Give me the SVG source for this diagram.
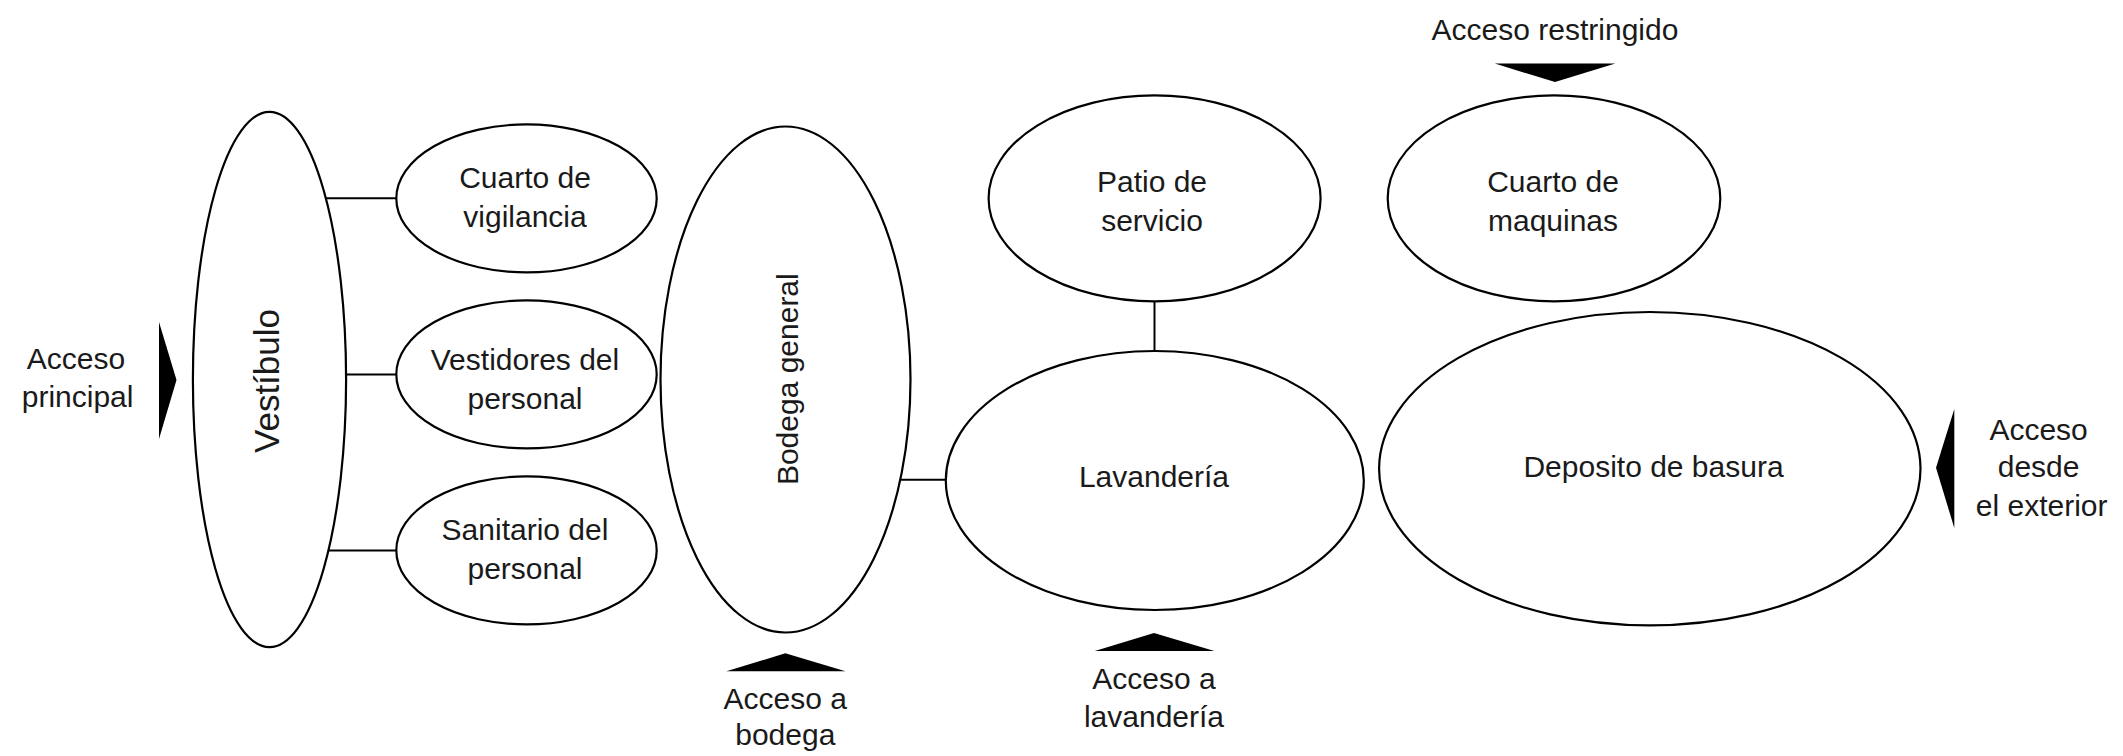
<svg xmlns="http://www.w3.org/2000/svg" width="2123" height="756" viewBox="0 0 2123 756">
<style>
  .node { fill: #ffffff; stroke: #000000; stroke-width: 2.2; }
  .conn { stroke: #000000; stroke-width: 2; fill: none; }
  .arrow { fill: #000000; stroke: none; }
  text { font-family: "Liberation Sans", Arial, sans-serif; font-size: 30px; fill: #1a1a1a; text-anchor: middle; }
</style>
<rect x="0" y="0" width="2123" height="756" fill="#ffffff"/>
<g id="connectors">
  <line class="conn" x1="326" y1="198.3" x2="396.5" y2="198.3"/>
  <line class="conn" x1="345" y1="374.5" x2="396.5" y2="374.5"/>
  <line class="conn" x1="328" y1="550.5" x2="396.5" y2="550.5"/>
  <line class="conn" x1="900" y1="479.7" x2="946" y2="479.7"/>
  <line class="conn" x1="1154.5" y1="301.4" x2="1154.5" y2="351"/>
</g>
<g id="vestibulo">
  <ellipse class="node" cx="269.5" cy="379.5" rx="76.6" ry="267.6"/>
  <text transform="translate(279,381) rotate(-90)" style="font-size:35px">Vestíbulo</text>
</g>
<g id="cuarto-vigilancia">
  <ellipse class="node" cx="526.5" cy="198.4" rx="130.2" ry="74"/>
  <text x="525" y="188">Cuarto de</text>
  <text x="525" y="226.6">vigilancia</text>
</g>
<g id="vestidores">
  <ellipse class="node" cx="526.5" cy="374.4" rx="130.2" ry="74"/>
  <text x="525" y="370.3">Vestidores del</text>
  <text x="525" y="408.9">personal</text>
</g>
<g id="sanitario">
  <ellipse class="node" cx="526.5" cy="550.4" rx="130.2" ry="74"/>
  <text x="525" y="540">Sanitario del</text>
  <text x="525" y="578.6">personal</text>
</g>
<g id="bodega">
  <ellipse class="node" cx="785.5" cy="379.5" rx="125" ry="253"/>
  <text transform="translate(797.5,379.2) rotate(-90)">Bodega general</text>
</g>
<g id="patio">
  <ellipse class="node" cx="1154.6" cy="198.4" rx="166" ry="103"/>
  <text x="1152" y="191.9">Patio de</text>
  <text x="1152" y="230.5">servicio</text>
</g>
<g id="lavanderia">
  <ellipse class="node" cx="1154.8" cy="480.5" rx="209" ry="129.5"/>
  <text x="1154" y="487">Lavandería</text>
</g>
<g id="cuarto-maquinas">
  <ellipse class="node" cx="1554" cy="198.4" rx="166.3" ry="103"/>
  <text x="1553" y="191.9">Cuarto de</text>
  <text x="1553" y="230.5">maquinas</text>
</g>
<g id="deposito">
  <ellipse class="node" cx="1649.8" cy="468.7" rx="270.7" ry="156.7"/>
  <text x="1653.5" y="477.3">Deposito de basura</text>
</g>
<g id="acceso-principal">
  <polygon class="arrow" points="159,322 176.5,380 159,439"/>
  <text x="76" y="368.9">Acceso</text>
  <text x="77.6" y="407.4">principal</text>
</g>
<g id="acceso-bodega">
  <polygon class="arrow" points="726.4,671.2 785.3,653.3 845.5,671.2"/>
  <text x="785.3" y="708.8">Acceso a</text>
  <text x="785.3" y="745">bodega</text>
</g>
<g id="acceso-lavanderia">
  <polygon class="arrow" points="1094.8,651 1154,633 1214.4,651"/>
  <text x="1154" y="688.5">Acceso a</text>
  <text x="1154" y="726.6">lavandería</text>
</g>
<g id="acceso-restringido">
  <polygon class="arrow" points="1494.8,63.6 1615.3,63.6 1555,82"/>
  <text x="1555" y="39.5">Acceso restringido</text>
</g>
<g id="acceso-exterior">
  <polygon class="arrow" points="1954.3,408.9 1936,467.7 1954.3,528"/>
  <text x="2038.6" y="439.7">Acceso</text>
  <text x="2038.6" y="477.3">desde</text>
  <text x="2041.7" y="515.9">el exterior</text>
</g>
</svg>
